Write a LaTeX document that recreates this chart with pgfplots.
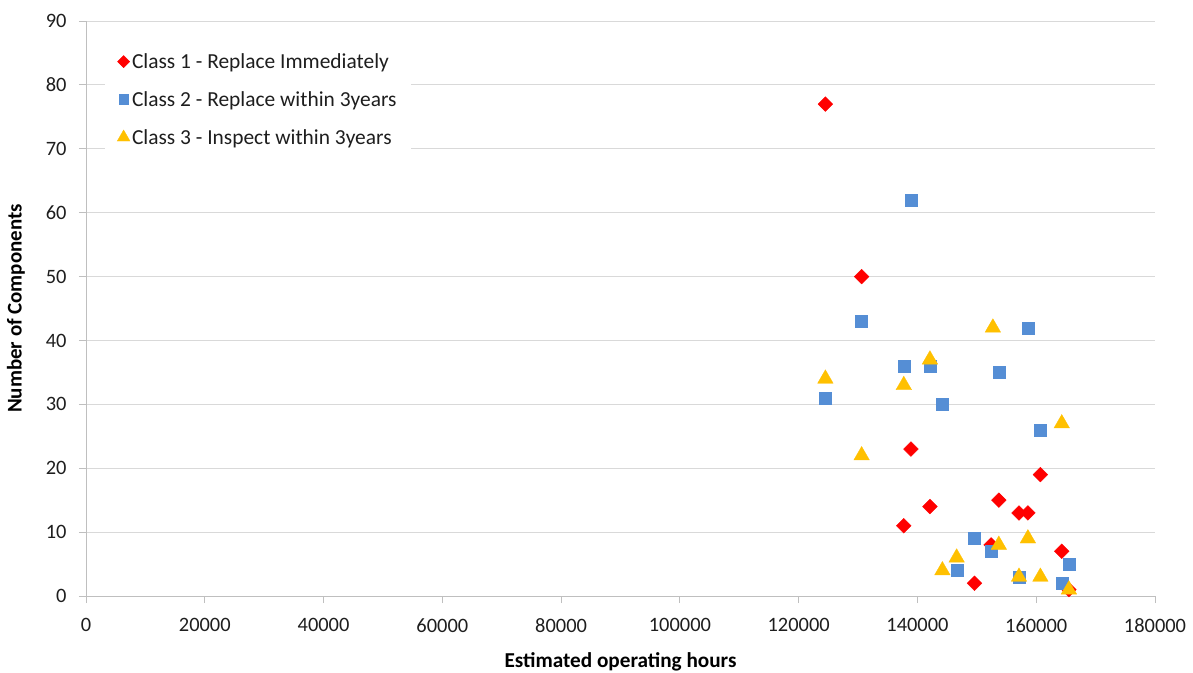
\documentclass[border=0pt]{standalone}
\usepackage{fontspec}
\setmainfont{Carlito}
\usepackage{pgfplots}
\pgfplotsset{compat=1.18}
\definecolor{cone}{RGB}{255,0,0}
\definecolor{ctwo}{RGB}{85,142,213}
\definecolor{cthree}{RGB}{255,192,0}
\definecolor{gridc}{RGB}{217,217,217}
\definecolor{axc}{RGB}{191,191,191}
\definecolor{txt}{RGB}{30,30,30}
\begin{document}
\begin{tikzpicture}
\begin{axis}[
  scale only axis,
  width=1069bp, height=575bp,
  xmin=0, xmax=180000, ymin=0, ymax=90,
  scaled x ticks=false,
  xtick={0,20000,40000,60000,80000,100000,120000,140000,160000,180000},
  xticklabels={0,20000,40000,60000,80000,100000,120000,140000,160000,180000},
  ytick={0,10,20,30,40,50,60,70,80,90},
  yticklabels={0,10,20,30,40,50,60,70,80,90},
  font=\fontsize{20.5}{24}\selectfont,
  tick label style={text=txt},
  axis x line*=bottom, axis y line*=left,
  axis line style={axc, line width=0.9bp},
  x axis line style={-}, y axis line style={-},
  tick align=outside,
  major tick length=7bp,
  tick style={axc, line width=0.9bp},
  ymajorgrids,
  grid style={gridc, line width=0.9bp},
  xticklabel style={yshift=-12bp},
  yticklabel style={xshift=-9bp},
  every axis x label/.style={at={(axis description cs:0.5,0)}, anchor=center, yshift=-66bp,
    font=\fontsize{21.3}{25}\selectfont\bfseries},
  every axis y label/.style={at={(axis description cs:0,0.5)}, anchor=center, rotate=90, yshift=70bp,
    font=\fontsize{21}{25}\selectfont\bfseries},
  xlabel={Estimated operating hours},
  ylabel={Number of Components},
  legend style={at={(axis description cs:0.0178,0.97)}, anchor=north west,
    draw=none, fill=white, row sep=17.5bp, inner xsep=12bp, inner ysep=13bp,
    font=\fontsize{21.5}{25}\selectfont, text=txt},
  legend cell align=left,
  legend image code/.code={\draw[#1,/tikz/every mark/.append style={scale=0.82}] plot coordinates {(0bp,0bp)};},
]
\addplot[only marks, mark=square*, mark size=5.2bp, color=cone, mark options={rotate=45, fill=cone, draw=cone}] coordinates {
  (124500,77) (130600,50) (138900,23) (137700,11) (142100,14) (153700,15)
  (157100,13) (158600,13) (160700,19) (152400,8) (149600,2) (164300,7) (165500,1)
};
\addlegendentry{Class 1 - Replace Immediately}
\addplot[only marks, mark=square*, mark size=6bp, color=ctwo, mark options={fill=ctwo, draw=ctwo, line width=0.3bp}] coordinates {
  (130600,43) (158600,42) (137700,36) (142100,36) (153700,35) (124500,31)
  (144200,30) (160700,26) (149600,9) (152400,7) (146600,4) (157100,3)
  (164300,2) (165500,5) (138900,62)
};
\addlegendentry{Class 2 - Replace within 3years}
\addplot[only marks, mark=triangle*, mark size=9bp, color=cthree, mark options={fill=cthree, draw=cthree, line width=0.3bp}] coordinates {
  (152700,42) (142100,37) (124500,34) (137700,33) (164300,27) (130600,22)
  (158600,9) (153700,8) (146600,6) (144200,4) (157100,3) (160700,3) (165500,1)
};
\addlegendentry{Class 3 - Inspect within 3years}
\coordinate (sw) at (rel axis cs:0,0);
\coordinate (ne) at (rel axis cs:1,1);
\end{axis}
\pgfresetboundingbox
\path ([xshift=-86bp,yshift=-77bp]sw) rectangle ([xshift=38bp,yshift=21bp]ne);
\end{tikzpicture}
\end{document}
